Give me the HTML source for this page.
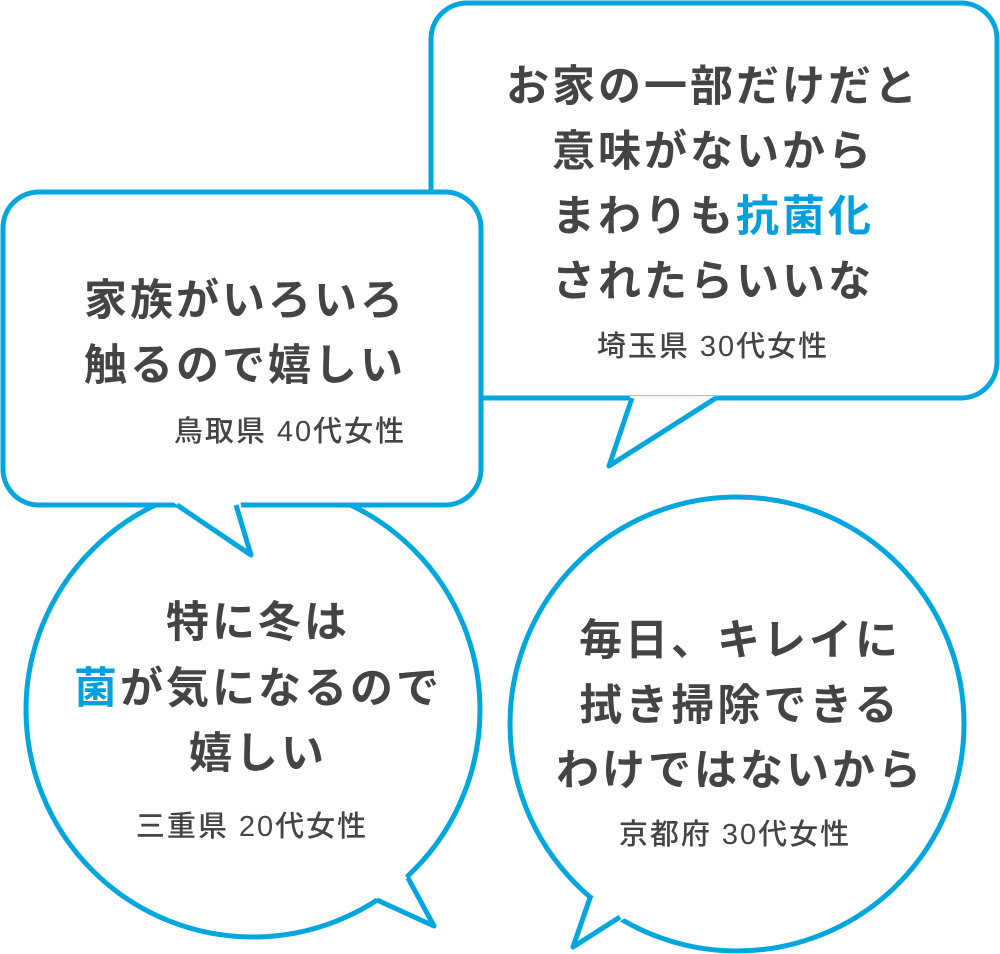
<!DOCTYPE html>
<html><head><meta charset="utf-8"><style>
html,body{margin:0;padding:0;background:#fff;}
svg{display:block}
text{font-family:"Liberation Sans","Noto Sans CJK JP",sans-serif;fill:#444;text-anchor:middle;}
.b{font-size:43px;font-weight:bold;letter-spacing:3px;}
.s{font-size:29px;letter-spacing:2px;font-weight:500;}
.c{fill:#00a0dc;}
</style></head><body>
<svg width="1000" height="954" viewBox="0 0 1000 954">
<g stroke="#00a6de" stroke-width="5" fill="#fff" stroke-linejoin="round">
<rect x="431" y="3" width="566" height="395" rx="36"/>
<polygon points="630,396 609,466 716,396" stroke="none"/>
<polyline points="632,398 609,466 716,398" fill="none"/>
<circle cx="253" cy="710" r="227"/>
<polygon points="400,866 434,926 365,893" stroke="none"/>
<polyline points="408,878 434,926 377,900" fill="none"/>
<circle cx="737" cy="724" r="227"/>
<polygon points="600,870 573,947 640,910" stroke="none"/>
<polyline points="591,895 573,947 620,917" fill="none"/>
<rect x="3" y="192" width="478" height="313" rx="36"/>
<polygon points="170,500 251,555 240,500" stroke="none"/>
<polyline points="177,505 251,555 236,505" fill="none"/>
</g>
<text class="b" x="713" y="101">お家の一部だけだと</text>
<text class="b" x="713" y="166">意味がないから</text>
<text class="b" x="713" y="231">まわりも<tspan class="c">抗菌化</tspan></text>
<text class="b" x="713" y="296">されたらいいな</text>
<text class="s" x="713" y="356">埼玉県 30代女性</text>

<text class="b" x="245" y="315">家族がいろいろ</text>
<text class="b" x="245" y="380">触るので嬉しい</text>
<text class="s" x="290" y="441">鳥取県 40代女性</text>

<text class="b" x="258" y="637">特に冬は</text>
<text class="b" x="258" y="703"><tspan class="c">菌</tspan>が気になるので</text>
<text class="b" x="258" y="768">嬉しい</text>
<text class="s" x="252" y="836">三重県 20代女性</text>

<text class="b" x="740" y="655">毎日、キレイに</text>
<text class="b" x="740" y="720">拭き掃除できる</text>
<text class="b" x="740" y="785">わけではないから</text>
<text class="s" x="735" y="844">京都府 30代女性</text>
</svg>
</body></html>
